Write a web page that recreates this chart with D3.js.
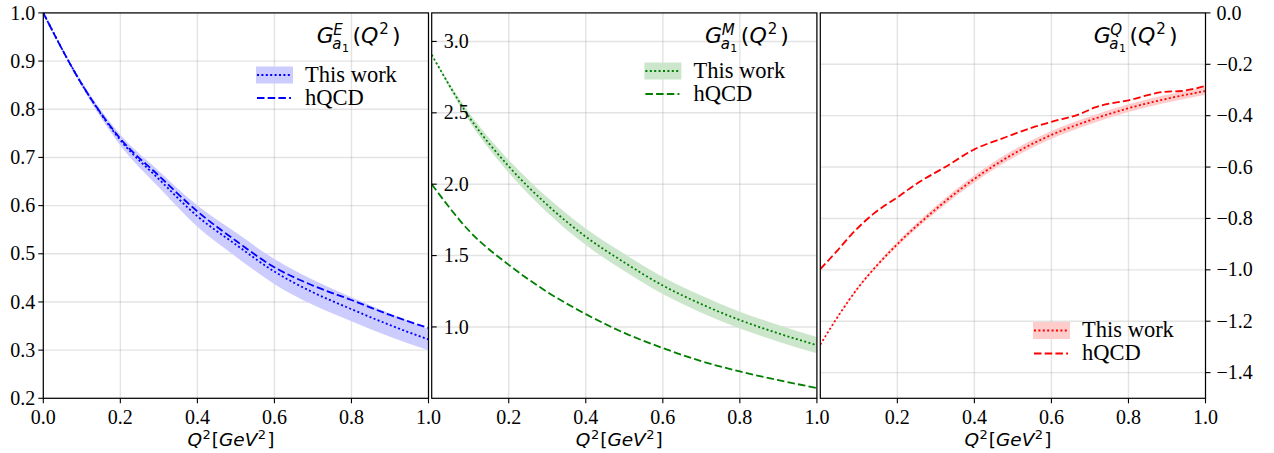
<!DOCTYPE html>
<html>
<head>
<meta charset="utf-8">
<script src="https://cdn.jsdelivr.net/npm/d3@7"></script>
<style>
  html, body { margin: 0; padding: 0; background: #fff; }
  svg { display: block; }
  .tick-label { font-family: "Liberation Serif", serif; font-size: 20px; fill: #000; }
  .legend-label { font-family: "Liberation Serif", serif; font-size: 22.5px; fill: #000; }
  .math { font-family: "DejaVu Sans", sans-serif; fill: #000; }
</style>
</head>
<body>
<div id="chart"></div>
<script>
// Form factors of the a1 meson

// Q^2 grid [GeV^2] for the E and M panels
const q2 = [0, 0.1, 0.2, 0.3, 0.4, 0.5, 0.6, 0.7, 0.8, 0.9, 1.0];

// G_E
const geThisWork = [1.0, 0.852, 0.736, 0.655, 0.578, 0.519, 0.463, 0.420, 0.385, 0.352, 0.322];
const geErr      = [0, 0.005, 0.011, 0.017, 0.022, 0.025, 0.026, 0.026, 0.025, 0.024, 0.022];
const geHqcd     = [1.0, 0.852, 0.739, 0.662, 0.588, 0.527, 0.472, 0.434, 0.404, 0.373, 0.346];

// G_M
const gmThisWork = [2.907, 2.46, 2.125, 1.855, 1.632, 1.452, 1.29, 1.16, 1.048, 0.955, 0.872];
const gmErr      = [0, 0.03, 0.045, 0.053, 0.058, 0.06, 0.06, 0.06, 0.059, 0.058, 0.057];
const gmHqcd     = [2.0, 1.665, 1.435, 1.245, 1.09, 0.958, 0.852, 0.76, 0.688, 0.627, 0.572];

// G_Q (finer grid near 0, hQCD curve has its own points)
const q2Q        = [0, 0.05, 0.1, 0.15, 0.2, 0.3, 0.4, 0.5, 0.6, 0.7, 0.8, 0.9, 1.0];
const gqThisWork = [-1.291, -1.172, -1.066, -0.978, -0.900, -0.764, -0.646, -0.550, -0.475, -0.418, -0.371, -0.334, -0.304];
const gqErr      = [0, 0.003, 0.005, 0.007, 0.009, 0.012, 0.014, 0.015, 0.015, 0.015, 0.015, 0.015, 0.015];
const q2QHqcd    = [0, 0.046, 0.08, 0.137, 0.2, 0.254, 0.323, 0.4, 0.479, 0.557, 0.6, 0.678, 0.713, 0.8, 0.894, 0.937, 1.0];
const gqHqcd     = [-0.997, -0.922, -0.864, -0.783, -0.718, -0.661, -0.601, -0.531, -0.485, -0.443, -0.424, -0.391, -0.368, -0.34, -0.307, -0.304, -0.284];

// tick labels
const xTicksFirst = [0, 0.2, 0.4, 0.6, 0.8, 1.0];
const xTicksOther = [0.2, 0.4, 0.6, 0.8, 1.0];
const yTicksE = [0.2, 0.3, 0.4, 0.5, 0.6, 0.7, 0.8, 0.9, 1.0];
const yTicksM = [1.0, 1.5, 2.0, 2.5, 3.0];
const yTicksQ = [0, -0.2, -0.4, -0.6, -0.8, -1.0, -1.2, -1.4];

const legendLabels = ['This work', 'hQCD'];

const W = 1274, H = 453;
const TOP = 12.9, BOT = 398.3, PW = 385.2;

const panels = [
    { left: 43.3, sup: 'E', color: '#0000ff', band: '#ccccff', yDomain: [0.2, 1.0], yTicks: yTicksE, ySide: 'left',
      xTicks: xTicksFirst, x: q2, tw: geThisWork, err: geErr, hx: q2, hq: geHqcd, legendY: 75 },
    { left: 431.7, sup: 'M', color: '#008000', band: '#cce6cc', yDomain: [0.5, 3.2], yTicks: yTicksM, ySide: 'inside',
      xTicks: xTicksOther, x: q2, tw: gmThisWork, err: gmErr, hx: q2, hq: gmHqcd, legendY: 71 },
    { left: 820.3, sup: 'Q', color: '#ff0000', band: '#ffcccc', yDomain: [-1.5, 0], yTicks: yTicksQ, ySide: 'right',
      xTicks: xTicksOther, x: q2Q, tw: gqThisWork, err: gqErr, hx: q2QHqcd, hq: gqHqcd, legendY: 330.5 }
];

const DOT = '2,2.4';
const DASH = '7.5,3.2';
const fmt = d3.format('.1f');

const svg = d3.select('#chart').append('svg')
    .attr('width', W)
    .attr('height', H);

svg.append('rect').attr('width', W).attr('height', H).attr('fill', '#fff');

panels.forEach((p, i) => {
    const x = d3.scaleLinear().domain([0, 1]).range([p.left, p.left + PW]);
    const y = d3.scaleLinear().domain(p.yDomain).range([BOT, TOP]);
    const g = svg.append('g');

    const clipId = `clip${i}`;
    svg.append('clipPath').attr('id', clipId)
        .append('rect')
        .attr('x', p.left).attr('y', TOP)
        .attr('width', PW).attr('height', BOT - TOP);

    // Grid
    g.append('g').selectAll('line')
        .data(p.xTicks)
        .join('line')
        .attr('x1', d => x(d)).attr('x2', d => x(d))
        .attr('y1', TOP).attr('y2', BOT)
        .attr('stroke', '#b0b0b0').attr('stroke-opacity', 0.35).attr('stroke-width', 1.4);

    g.append('g').selectAll('line')
        .data(p.yTicks)
        .join('line')
        .attr('x1', p.left).attr('x2', p.left + PW)
        .attr('y1', d => y(d)).attr('y2', d => y(d))
        .attr('stroke', '#b0b0b0').attr('stroke-opacity', 0.35).attr('stroke-width', 1.4);

    // Curves
    const plot = g.append('g').attr('clip-path', `url(#${clipId})`);

    const bandData = p.x.map((v, j) => ({ x: v, lo: p.tw[j] - p.err[j], hi: p.tw[j] + p.err[j] }));
    const area = d3.area()
        .x(d => x(d.x))
        .y0(d => y(d.lo))
        .y1(d => y(d.hi))
        .curve(d3.curveMonotoneX);

    plot.append('path')
        .attr('d', area(bandData))
        .attr('fill', p.band);

    const line = d3.line()
        .x(d => x(d[0]))
        .y(d => y(d[1]))
        .curve(d3.curveMonotoneX);

    plot.append('path')
        .attr('d', line(p.hx.map((v, j) => [v, p.hq[j]])))
        .attr('fill', 'none')
        .attr('stroke', p.color)
        .attr('stroke-width', 1.8)
        .attr('stroke-dasharray', DASH);

    plot.append('path')
        .attr('d', line(p.x.map((v, j) => [v, p.tw[j]])))
        .attr('fill', 'none')
        .attr('stroke', p.color)
        .attr('stroke-width', 1.8)
        .attr('stroke-dasharray', DOT);

    // Spines
    g.append('rect')
        .attr('x', p.left).attr('y', TOP)
        .attr('width', PW).attr('height', BOT - TOP)
        .attr('fill', 'none')
        .attr('stroke', '#000')
        .attr('stroke-width', 1.2);

    // X ticks
    const xt = g.append('g').selectAll('g')
        .data(p.xTicks)
        .join('g')
        .attr('transform', d => `translate(${x(d)},${BOT})`);
    xt.append('line').attr('y2', 5).attr('stroke', '#000').attr('stroke-width', 1.1);
    xt.append('text')
        .attr('class', 'tick-label')
        .attr('text-anchor', 'middle')
        .attr('y', 25.5)
        .text(d => fmt(d));

    // Y ticks
    const yt = g.append('g').selectAll('g')
        .data(p.yTicks)
        .join('g')
        .attr('transform', d => `translate(0,${y(d)})`);
    if (p.ySide === 'left') {
        yt.append('line').attr('x1', p.left - 5).attr('x2', p.left).attr('stroke', '#000').attr('stroke-width', 1.1);
        yt.append('text').attr('class', 'tick-label')
            .attr('x', p.left - 8).attr('dy', '0.33em')
            .attr('text-anchor', 'end')
            .text(d => fmt(d));
    } else if (p.ySide === 'inside') {
        yt.append('line').attr('x1', p.left).attr('x2', p.left + 5).attr('stroke', '#000').attr('stroke-width', 1.1);
        yt.append('text').attr('class', 'tick-label')
            .attr('x', p.left + 12).attr('dy', '0.33em')
            .attr('text-anchor', 'start')
            .text(d => fmt(d));
    } else {
        yt.append('line').attr('x1', p.left + PW).attr('x2', p.left + PW + 5).attr('stroke', '#000').attr('stroke-width', 1.1);
        yt.append('text').attr('class', 'tick-label')
            .attr('x', p.left + PW + 11).attr('dy', '0.33em')
            .attr('text-anchor', 'start')
            .text(d => fmt(d));
    }

    // X label  Q^2[GeV^2]
    xLabel(g, p.left + PW / 2 - 5, 446);

    // Title  G^X_{a_1}(Q^2)
    title(g, p.sup, p.left + PW - 28, 43.3);

    // Legend
    const lx = p.left + PW - 172.5;
    const leg = g.append('g');
    leg.append('rect')
        .attr('x', lx).attr('y', p.legendY - 8.5)
        .attr('width', 37).attr('height', 17)
        .attr('fill', p.band);
    leg.append('line')
        .attr('x1', lx + 1).attr('x2', lx + 35)
        .attr('y1', p.legendY).attr('y2', p.legendY)
        .attr('stroke', p.color).attr('stroke-width', 1.8)
        .attr('stroke-dasharray', DOT);
    leg.append('line')
        .attr('x1', lx + 1).attr('x2', lx + 35)
        .attr('y1', p.legendY + 23).attr('y2', p.legendY + 23)
        .attr('stroke', p.color).attr('stroke-width', 1.8)
        .attr('stroke-dasharray', DASH);
    leg.selectAll('text')
        .data(legendLabels)
        .join('text')
        .attr('class', 'legend-label')
        .attr('x', lx + 49)
        .attr('y', (d, j) => p.legendY + 6.5 + j * 23)
        .text(d => d);
});

function piece(t, s, size, italic, x, y) {
    const el = t.append('text')
        .attr('class', 'math')
        .attr('x', x).attr('y', y)
        .style('font-size', size + 'px')
        .style('font-style', italic ? 'italic' : 'normal')
        .text(s);
    return el.node().getComputedTextLength();
}

function title(g, sup, rightX, baseY) {
    const t = g.append('g');
    const wG = piece(t, 'G', 22, true, 0, 0);
    const supX = wG - 0.5;
    const wSup = piece(t, sup, 15, true, supX, -8);
    const subX = wG - 1.5;
    const wa = piece(t, 'a', 15, true, subX, 6);
    const w1 = piece(t, '1', 11, false, subX + wa + 0.5, 8.5);
    let cx = Math.max(supX + wSup, subX + wa + 0.5 + w1) + 3.5;
    cx += piece(t, '(', 22, false, cx, 0);
    cx += piece(t, 'Q', 22, true, cx, 0) + 1;
    cx += piece(t, '2', 15, false, cx, -9) + 3;
    cx += piece(t, ')', 22, false, cx, 0);
    t.attr('transform', `translate(${rightX - cx},${baseY})`);
}

function xLabel(g, centerX, baseY) {
    const t = g.append('g');
    let cx = 0;
    cx += piece(t, 'Q', 18.5, true, cx, 0) + 0.5;
    cx += piece(t, '2', 13, false, cx, -7.5) + 1;
    cx += piece(t, '[', 18.5, false, cx, 0);
    cx += piece(t, 'GeV', 18.5, true, cx, 0) + 0.5;
    cx += piece(t, '2', 13, false, cx, -7.5) + 1;
    cx += piece(t, ']', 18.5, false, cx, 0);
    t.attr('transform', `translate(${centerX - cx / 2},${baseY})`);
}
</script>
</body>
</html>
